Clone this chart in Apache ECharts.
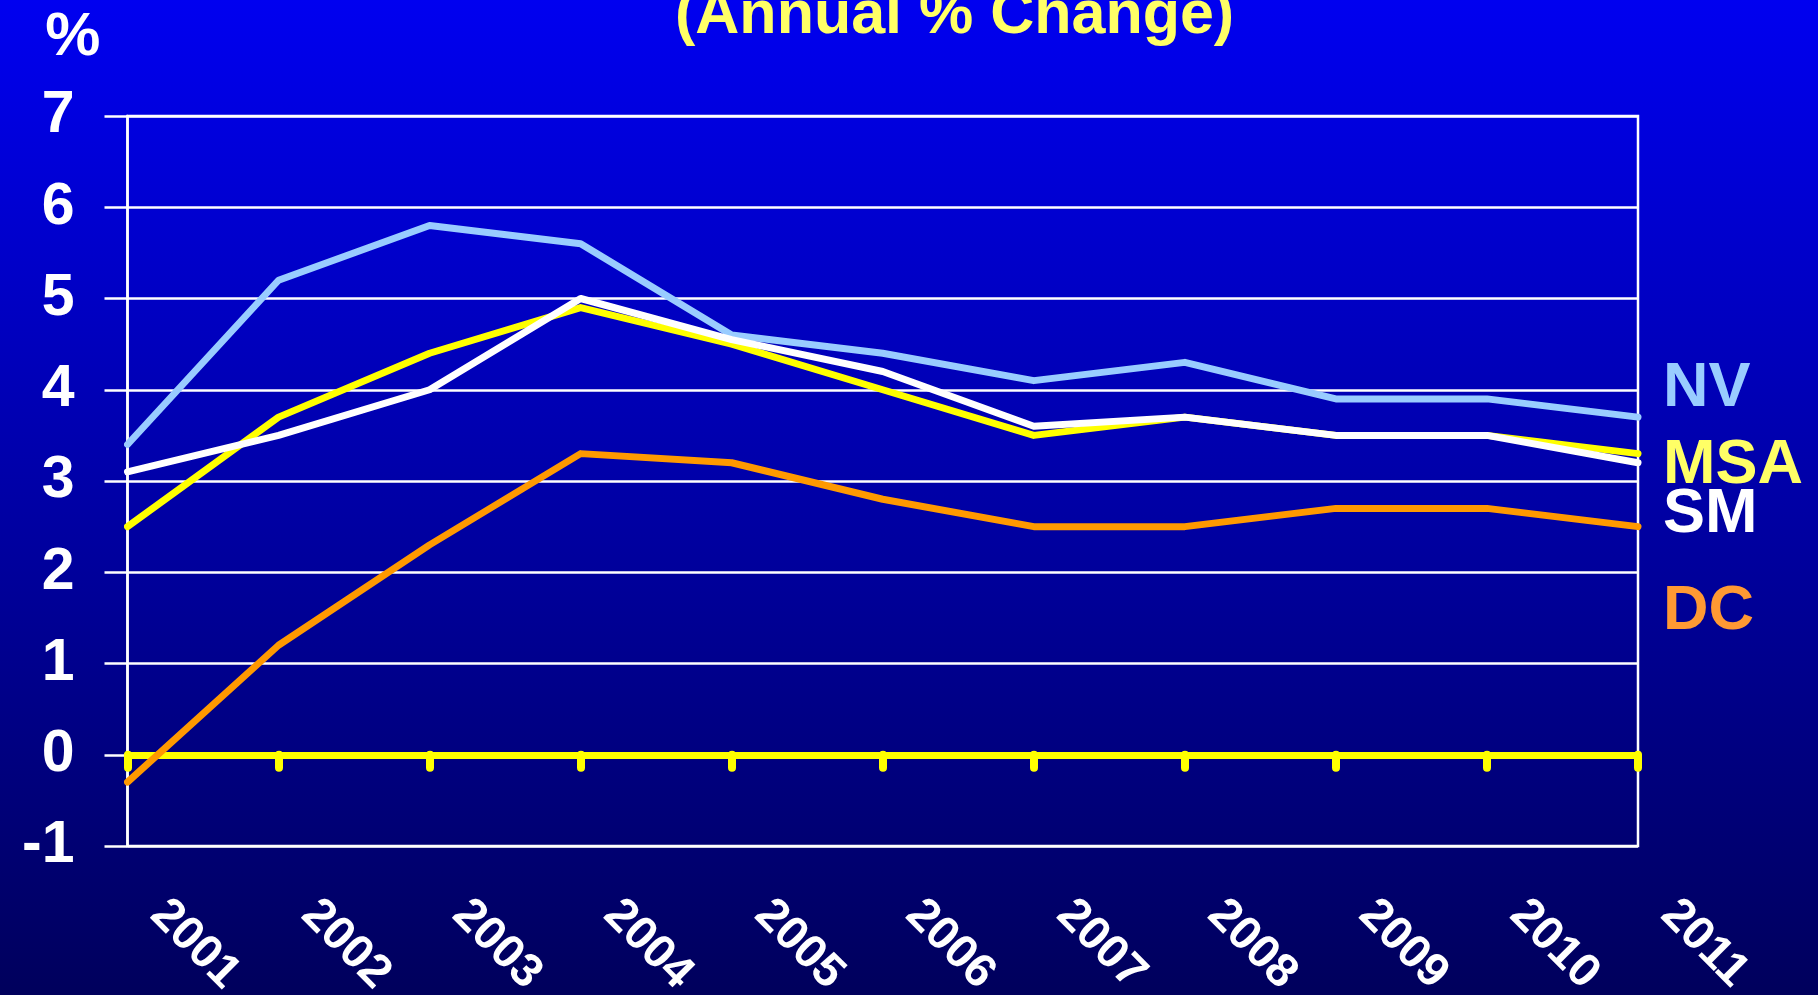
<!DOCTYPE html>
<html>
<head>
<meta charset="utf-8">
<script src="https://cdn.jsdelivr.net/npm/echarts@6/dist/echarts.min.js"></script>
<style>
  html, body { margin: 0; padding: 0; background: #000080; }
  #chart { width: 1818px; height: 995px; }
</style>
</head>
<body>
<div id="chart"></div>
<script>
// ---- Data ----
const years = ['2001', '2002', '2003', '2004', '2005', '2006', '2007', '2008', '2009', '2010', '2011'];
const seriesNames = ['NV', 'MSA', 'SM', 'DC'];
const nvValues  = [3.4, 5.2, 5.8, 5.6, 4.6, 4.4, 4.1, 4.3, 3.9, 3.9, 3.7];
const msaValues = [2.5, 3.7, 4.4, 4.9, 4.5, 4.0, 3.5, 3.7, 3.5, 3.5, 3.3];
const smValues  = [3.1, 3.5, 4.0, 5.0, 4.55, 4.2, 3.6, 3.7, 3.5, 3.5, 3.2];
const dcValues  = [-0.3, 1.2, 2.3, 3.3, 3.2, 2.8, 2.5, 2.5, 2.7, 2.7, 2.5];
const yMin = -1, yMax = 7, yStep = 1;
const titleText = '(Annual % Change)';
const unitText = '%';

// ---- Styles ----
const FONT = '"Liberation Sans", Arial, sans-serif';
const lineColors  = ['#99CCFF', '#FFFF00', '#FFFFFF', '#FF9900'];
const labelColors = ['#99CCFF', '#FFFF66', '#FFFFFF', '#FF9933'];
const labelOffsets = [[20, -29], [20, 12], [20, 52], [20, 85]];
const valuesList = [nvValues, msaValues, smValues, dcValues];

const chart = echarts.init(document.getElementById('chart'), null, { renderer: 'canvas' });

const series = seriesNames.map((name, i) => ({
  name: name,
  type: 'line',
  xAxisIndex: 0,
  yAxisIndex: 0,
  data: valuesList[i],
  showSymbol: false,
  symbol: 'none',
  z: 3 + i,
  lineStyle: { color: lineColors[i], width: 7, cap: 'round', join: 'round' },
  itemStyle: { color: lineColors[i] },
  endLabel: {
    show: true,
    formatter: '{a}',
    color: labelColors[i],
    fontSize: 63,
    fontWeight: 'bold',
    fontFamily: FONT,
    offset: labelOffsets[i],
    distance: 5
  },
  emphasis: { disabled: true },
  animation: false
}));

const option = {
  animation: false,
  backgroundColor: {
    type: 'linear', x: 0, y: 0, x2: 0, y2: 1,
    colorStops: [
      { offset: 0, color: '#0000F0' },
      { offset: 1, color: '#00005C' }
    ]
  },
  title: {
    text: titleText,
    left: 670,
    top: -19,
    textStyle: { color: '#FFFF66', fontSize: 61, fontWeight: 'bold', fontFamily: FONT }
  },
  grid: {
    left: 127.5, right: 180, top: 116, bottom: 149,
    show: true, borderColor: '#FFFFFF', borderWidth: 2.5, backgroundColor: 'transparent',
    containLabel: false,
    outerBoundsMode: 'none'
  },
  xAxis: [
    {
      type: 'category',
      data: years,
      boundaryGap: false,
      position: 'bottom',
      axisLine: { show: true, onZero: true, lineStyle: { color: '#FFFF00', width: 7 } },
      axisTick: { show: true, inside: false, length: 13, alignWithLabel: true,
                  lineStyle: { color: '#FFFF00', width: 8, cap: 'round' } },
      axisLabel: { show: false },
      splitLine: { show: false },
      z: 2
    },
    {
      type: 'category',
      data: years,
      boundaryGap: false,
      position: 'bottom',
      axisLine: { show: false, onZero: false },
      axisTick: { show: false },
      axisLabel: {
        show: true,
        rotate: -45,
        margin: 31,
        padding: [0, 0, 0, 43],
        color: '#FFFFFF',
        fontSize: 47,
        fontWeight: 'bold',
        fontFamily: FONT,
        interval: 0
      },
      splitLine: { show: false }
    }
  ],
  yAxis: {
    type: 'value',
    min: yMin,
    max: yMax,
    interval: yStep,
    name: unitText,
    nameLocation: 'end',
    nameGap: 78,
    nameTextStyle: { color: '#FFFFFF', fontSize: 62, fontWeight: 'bold', fontFamily: FONT,
                     align: 'right', verticalAlign: 'middle', padding: [0, 27, 0, 0] },
    axisLine: { show: true, lineStyle: { color: '#FFFFFF', width: 2.5 } },
    axisTick: { show: true, inside: false, length: 23, lineStyle: { color: '#FFFFFF', width: 2.5 } },
    axisLabel: { color: '#FFFFFF', fontSize: 59, fontWeight: 'bold', fontFamily: FONT, margin: 53 },
    splitLine: { show: true, lineStyle: { color: '#FFFFFF', width: 2.5 } }
  },
  series: series
};

chart.setOption(option);
</script>
</body>
</html>
